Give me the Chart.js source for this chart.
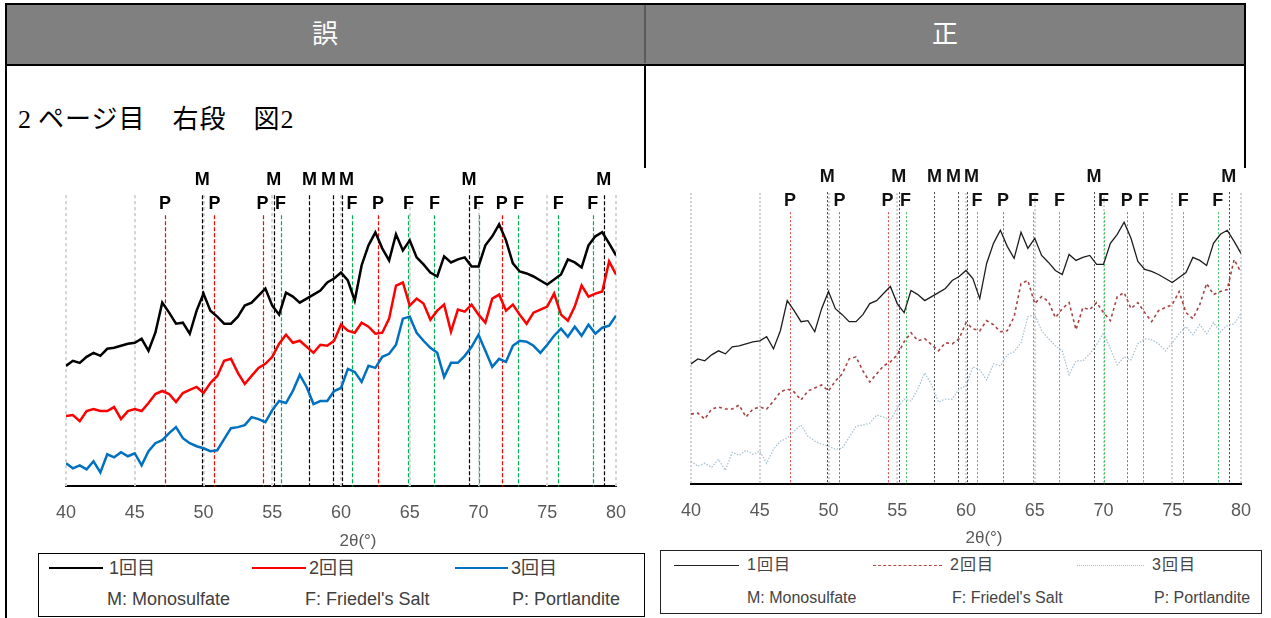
<!DOCTYPE html>
<html>
<head>
<meta charset="utf-8">
<script src="https://cdn.jsdelivr.net/npm/chart.js@4.4.1/dist/chart.umd.min.js"></script>
<style>
  html, body { margin: 0; padding: 0; background: #fff; overflow: hidden; }
  body { width: 1271px; height: 618px; position: relative; font-family: "Liberation Sans", Arial, sans-serif; }
  .abs { position: absolute; }
  #head { left: 5px; top: 3px; width: 1241px; height: 63px; background: #808080; border: 2px solid #000; box-sizing: border-box; }
  .htxt { top: 15px; width: 60px; text-align: center; color: #fff; font: 26px "Noto Sans CJK JP", sans-serif; line-height: 34px; }
  .vline { background: #000; width: 2px; }
  #note { left: 18px; top: 103px; font-size: 26px; line-height: 34px; letter-spacing: 1px; font-family: "Liberation Serif", "Noto Sans CJK JP", serif; color: #000; white-space: pre; }
  .legend { border: 1px solid #000; box-sizing: border-box; background: #fff; }
  .lt { color: #404040; white-space: nowrap; font-family: "Liberation Sans", "Noto Sans CJK JP", sans-serif; }
  .sw { height: 0; }
  canvas { position: absolute; }
</style>
</head>
<body>

<div id="head" class="abs"></div>
<div class="abs" style="left:644px;top:5px;width:2px;height:58px;background:#5a5a5a"></div>
<div class="abs htxt" style="left:295px">誤</div>
<div class="abs htxt" style="left:915px">正</div>
<div class="abs vline" style="left:5px;top:64px;height:554px"></div>
<div class="abs vline" style="left:644px;top:64px;height:104px"></div>
<div class="abs vline" style="left:1244px;top:64px;height:104px"></div>
<div id="note" class="abs"><span style="margin-right:6px">2</span>ページ目　右段　図2</div>

<canvas id="wrongChart" width="640" height="390" style="left:16px;top:160px"></canvas>
<canvas id="rightChart" width="630" height="390" style="left:641px;top:158px"></canvas>

<!-- legend of the left (wrong) figure -->
<div class="abs legend" style="left:38px;top:553px;width:607px;height:64px"></div>
<div class="abs sw" style="left:49px;top:567px;width:54px;border-top:2px solid #000"></div>
<div class="abs lt" style="left:109px;top:557px;font-size:18px;line-height:22px">1回目</div>
<div class="abs sw" style="left:252px;top:567px;width:54px;border-top:2px solid #ff0000"></div>
<div class="abs lt" style="left:309px;top:557px;font-size:18px;line-height:22px">2回目</div>
<div class="abs sw" style="left:455px;top:567px;width:53px;border-top:2px solid #0070c0"></div>
<div class="abs lt" style="left:511px;top:557px;font-size:18px;line-height:22px">3回目</div>
<div class="abs lt" style="left:107px;top:588px;font-size:18px;line-height:22px">M: Monosulfate</div>
<div class="abs lt" style="left:305px;top:588px;font-size:18px;line-height:22px">F: Friedel's Salt</div>
<div class="abs lt" style="left:512px;top:588px;font-size:18px;line-height:22px">P: Portlandite</div>

<!-- legend of the right (correct) figure -->
<div class="abs legend" style="left:660px;top:550px;width:602px;height:64px;border-color:#222"></div>
<div class="abs sw" style="left:674px;top:565px;width:65px;border-top:1px solid #222"></div>
<div class="abs lt" style="left:747px;top:555px;font-size:16px;line-height:20px;letter-spacing:1px;color:#444">1回目</div>
<div class="abs sw" style="left:873px;top:565px;width:69px;border-top:1px dashed #b04848"></div>
<div class="abs lt" style="left:950px;top:555px;font-size:16px;line-height:20px;letter-spacing:1px;color:#444">2回目</div>
<div class="abs sw" style="left:1077px;top:565px;width:67px;border-top:1px dotted #a9c0cf"></div>
<div class="abs lt" style="left:1152px;top:555px;font-size:16px;line-height:20px;letter-spacing:1px;color:#444">3回目</div>
<div class="abs lt" style="left:747px;top:588px;font-size:16px;line-height:20px;color:#444">M: Monosulfate</div>
<div class="abs lt" style="left:952px;top:588px;font-size:16px;line-height:20px;color:#444">F: Friedel's Salt</div>
<div class="abs lt" style="left:1154px;top:588px;font-size:16px;line-height:20px;color:#444">P: Portlandite</div>

<script>
// 2-theta positions (degrees)
const theta = [
  40, 40.5, 41, 41.5, 42, 42.5, 43, 43.5, 44, 44.5, 45, 45.5, 46, 46.5, 47, 47.5,
  48, 48.5, 49, 49.5, 50, 50.5, 51, 51.5, 52, 52.5, 53, 53.5, 54, 54.5, 55, 55.5,
  56, 56.5, 57, 57.5, 58, 58.5, 59, 59.5, 60, 60.5, 61, 61.5, 62, 62.5, 63, 63.5,
  64, 64.5, 65, 65.5, 66, 66.5, 67, 67.5, 68, 68.5, 69, 69.5, 70, 70.5, 71, 71.5,
  72, 72.5, 73, 73.5, 74, 74.5, 75, 75.5, 76, 76.5, 77, 77.5, 78, 78.5, 79, 79.5, 80
];

// intensity (arbitrary, offset patterns)
const run1 = [
  120, 125, 123, 129, 133, 130, 137, 138, 140, 142, 143, 147, 135, 153, 183, 173,
  162, 163, 152, 175, 192, 175, 169, 162, 162, 169, 180, 183, 190, 197, 180, 171,
  193, 189, 183, 187, 191, 195, 203, 207, 213, 205, 185, 220, 240, 253, 237, 225,
  251, 235, 245, 228, 221, 213, 209, 229, 223, 226, 228, 219, 219, 240, 249, 261,
  245, 222, 214, 212, 209, 205, 201, 206, 211, 226, 223, 218, 240, 249, 253, 242, 230
];
const run2 = [
  70, 71, 65, 75, 77, 75, 75, 79, 67, 75, 77, 75, 83, 92, 95, 92,
  84, 93, 96, 99, 93, 103, 110, 125, 127, 113, 102, 110, 118, 122, 129, 142,
  151, 143, 145, 139, 133, 141, 140, 145, 161, 155, 153, 163, 159, 152, 153, 167,
  200, 203, 180, 187, 182, 166, 175, 181, 154, 176, 174, 181, 171, 163, 187, 191,
  175, 181, 171, 162, 173, 176, 179, 192, 171, 165, 179, 200, 189, 192, 194, 224, 211
];
const run3 = [
  23, 18, 21, 17, 25, 14, 32, 29, 34, 30, 33, 21, 35, 43, 46, 53,
  59, 48, 43, 40, 38, 35, 36, 47, 58, 59, 61, 69, 67, 64, 76, 85,
  83, 95, 111, 99, 82, 85, 85, 95, 98, 117, 114, 104, 120, 118, 129, 132,
  141, 167, 169, 153, 145, 138, 133, 109, 123, 123, 130, 139, 151, 135, 119, 127,
  124, 140, 145, 144, 140, 133, 141, 150, 157, 149, 159, 150, 161, 152, 158, 160, 170
];

const seriesNames = ["1回目", "2回目", "3回目"];

// reference peak positions (2-theta)
const mPeaks = [49.9, 55.1, 57.7, 59.4, 60.1, 69.3, 79.1]; // Monosulfate
const fPeaks = [55.6, 60.8, 64.9, 66.8, 70.0, 72.9, 75.8, 78.3]; // Friedel's Salt
const pPeaks = [47.2, 50.8, 54.3, 62.7, 71.7]; // Portlandite

const axisTitle = "2θ(°)";

// push crowded labels apart so they don't sit on top of each other
function spread(xs, gap) {
  const out = xs.slice();
  for (let pass = 0; pass < 5; pass++) {
    for (let i = 1; i < out.length; i++) {
      const d = out[i] - out[i - 1];
      if (d < gap) {
        out[i - 1] -= (gap - d) / 2;
        out[i] += (gap - d) / 2;
      }
    }
  }
  return out;
}

const peakPlugin = {
  id: "peaks",
  beforeDatasetsDraw(chart, args, o) {
    const ctx = chart.ctx;
    const xs = chart.scales.x, ys = chart.scales.y;
    const bottom = chart.chartArea.bottom;
    ctx.save();
    ctx.strokeStyle = o.gridColor;
    ctx.lineWidth = o.gridWidth;
    ctx.setLineDash(o.gridDash);
    xs.ticks.forEach((t) => {
      const px = Math.round(xs.getPixelForValue(t.value));
      ctx.beginPath();
      ctx.moveTo(px, ys.getPixelForValue(o.gridTop));
      ctx.lineTo(px, bottom);
      ctx.stroke();
    });
    const groups = [
      [mPeaks, o.mColor, o.mTop],
      [fPeaks, o.fColor, o.pfTop],
      [pPeaks, o.pColor, o.pfTop],
    ];
    ctx.lineWidth = o.peakWidth;
    ctx.setLineDash(o.peakDash);
    groups.forEach(([list, color, top]) => {
      ctx.strokeStyle = color;
      list.forEach((v) => {
        const px = Math.round(xs.getPixelForValue(v)) + 0.5;
        ctx.beginPath();
        ctx.moveTo(px, ys.getPixelForValue(top));
        ctx.lineTo(px, bottom);
        ctx.stroke();
      });
    });
    ctx.restore();
  },
  afterDatasetsDraw(chart, args, o) {
    const ctx = chart.ctx;
    const xs = chart.scales.x, ys = chart.scales.y;
    const area = chart.chartArea;
    ctx.save();
    ctx.fillStyle = o.labelColor;
    ctx.font = "bold 18px 'Liberation Sans', Arial, sans-serif";
    ctx.textAlign = "center";
    ctx.textBaseline = "middle";

    const mx = spread(mPeaks.map((v) => xs.getPixelForValue(v)), 18);
    mx.forEach((px) => ctx.fillText("M", px, ys.getPixelForValue(o.mLabel)));

    const row2 = fPeaks.map((v) => [v, "F"]).concat(pPeaks.map((v) => [v, "P"]));
    row2.sort((a, b) => a[0] - b[0]);
    const rx = spread(row2.map((r) => xs.getPixelForValue(r[0])), 15);
    rx.forEach((px, i) => ctx.fillText(row2[i][1], px, ys.getPixelForValue(o.pfLabel)));

    // axis title
    ctx.font = "17px 'Liberation Sans', Arial, sans-serif";
    ctx.fillStyle = "#595959";
    ctx.fillText(axisTitle, (area.left + area.right) / 2 + o.titleShift, area.bottom + o.titleGap);
    ctx.restore();
  },
};

function makeChart(id, styles, peakOpts, padRight) {
  const runs = [run1, run2, run3];
  const datasets = runs.map((vals, i) => ({
    label: seriesNames[i],
    data: theta.map((t, j) => ({ x: t, y: vals[j] })),
    borderColor: styles[i].color,
    borderWidth: styles[i].width,
    borderDash: styles[i].dash,
    pointRadius: 0,
    fill: false,
    tension: 0,
  }));
  return new Chart(document.getElementById(id), {
    type: "line",
    data: { datasets },
    options: {
      responsive: false,
      animation: false,
      devicePixelRatio: 1,
      layout: { padding: { left: 50, right: padRight, top: 5, bottom: 10 } },
      scales: {
        x: {
          type: "linear",
          min: 40,
          max: 80,
          ticks: {
            stepSize: 5,
            color: "#595959",
            font: { family: "'Liberation Sans', Arial, sans-serif", size: 18 },
            padding: 16,
          },
          grid: { display: false, drawTicks: false },
          border: { display: true, color: "#000", width: 2 },
        },
        y: { display: false, min: 0, max: 320 },
      },
      plugins: {
        legend: { display: false },
        tooltip: { enabled: false },
        peaks: peakOpts,
      },
    },
    plugins: [peakPlugin],
  });
}

makeChart(
  "wrongChart",
  [
    { color: "#000000", width: 2.5, dash: [] },
    { color: "#ff0000", width: 2.5, dash: [] },
    { color: "#0070c0", width: 2.5, dash: [] },
  ],
  {
    gridColor: "#d4d4d4", gridWidth: 2, gridDash: [3, 3], gridTop: 290,
    mColor: "#000000", fColor: "#00b050", pColor: "#ff0000",
    peakWidth: 1.2, peakDash: [4, 2],
    mTop: 290, pfTop: 270, mLabel: 305, pfLabel: 281,
    labelColor: "#000", titleShift: 17, titleGap: 55,
  },
  40
);

makeChart(
  "rightChart",
  [
    { color: "#1e1e1e", width: 1.3, dash: [] },
    { color: "#a84444", width: 1.6, dash: [3, 3] },
    { color: "#a9c2d2", width: 1.3, dash: [1.5, 1.5] },
  ],
  {
    gridColor: "#d0d0d0", gridWidth: 2, gridDash: [2, 2], gridTop: 290,
    mColor: "#444444", fColor: "#3cbf5a", pColor: "#e84a4a",
    peakWidth: 1, peakDash: [2, 2],
    mTop: 291, pfTop: 271, mLabel: 306, pfLabel: 282,
    labelColor: "#111", titleShift: 18, titleGap: 54,
  },
  30
);
</script>
</body>
</html>
